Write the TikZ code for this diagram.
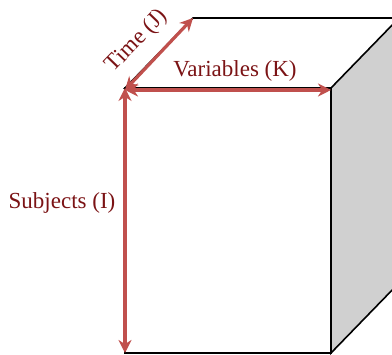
\documentclass[tikz,border=0pt]{standalone}
\usepackage{fontspec}
\setmainfont{Liberation Serif}
\usetikzlibrary{arrows.meta}
\definecolor{arrowred}{HTML}{C0504D}
\definecolor{labelred}{HTML}{7B1315}
\definecolor{sidegray}{HTML}{D0D0D0}
\tikzset{
  dimarrow/.style={{Stealth[length=13pt,width=13pt]}-{Stealth[length=13pt,width=13pt]}, arrowred, line width=3.2pt},
  dimlabel/.style={text=labelred, font=\fontsize{23}{26}\selectfont, inner sep=1pt},
  edge/.style={draw=black, line width=1.6pt}
}
\begin{document}
\begin{tikzpicture}[x=1pt, y=1pt]
	\useasboundingbox (0,0) rectangle (392,355);
	\clip (0,0) rectangle (392,355);

	% Ecken des Quaders
	\coordinate (fbl) at (125,2);
	\coordinate (fbr) at (331,2);
	\coordinate (ftl) at (125,267);
	\coordinate (ftr) at (331,267);
	\coordinate (btl) at (193,337);
	\coordinate (btr) at (399,337);
	\coordinate (bbr) at (399,72);

	% Seiten
	\filldraw[fill=sidegray, edge] (ftr) -- (btr) -- (bbr) -- (fbr) -- cycle;
	\draw[edge] (ftr) -- (ftl) -- (btl) -- (btr);
	\draw[edge, fill=white] (fbl) rectangle (ftr);

	% Pfeile
	\coordinate (hl) at (125,265);
	\coordinate (hr) at (331,265);
	\draw[dimarrow] (ftl) -- (fbl);
	\draw[dimarrow] (hl) -- (hr);
	\draw[dimarrow] (hl) -- (btl);

	% Beschriftungen
	\node[dimlabel] (subj) at (62,152) {Subjects (I)};
	\node[dimlabel] (vars) at (235,284) {Variables (K)};
	\node[dimlabel, rotate=46] (time) at (137,314) {Time (J)};
\end{tikzpicture}
\end{document}
